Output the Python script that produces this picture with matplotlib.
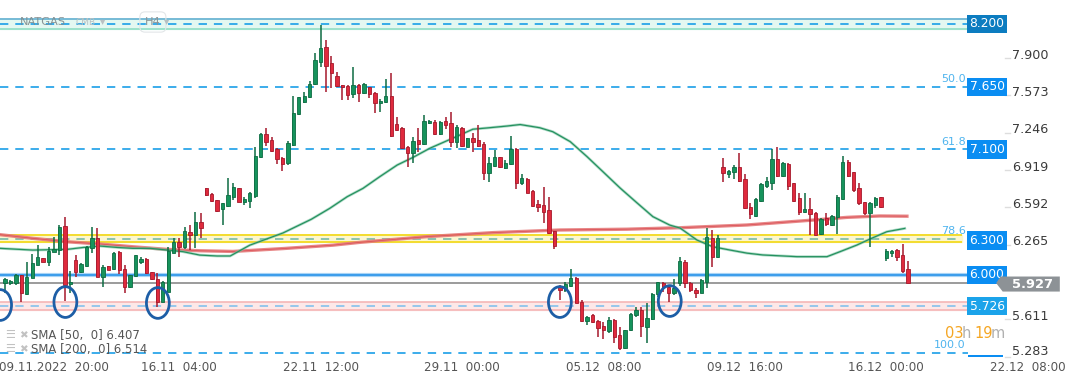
import matplotlib.pyplot as plt
from matplotlib.patches import Ellipse, Polygon, Rectangle
from matplotlib import transforms

plt.rcParams['lines.scale_dashes'] = False

# NATGAS H4 candles, first visible bar = index 0
opens = [5.925, 5.931, 5.931, 5.998, 5.83, 5.97, 6.09, 6.144, 6.115, 6.203,
         6.217, 6.428, 5.916, 6.13, 6.027, 6.077, 6.232, 6.32, 5.977, 6.074,
         6.048, 6.203, 6.05, 5.89, 5.99, 6.115, 6.138, 6.021, 5.96, 5.764,
         5.852, 6.194, 6.29, 6.246, 6.378, 6.349, 6.466, 6.758, 6.708, 6.656,
         6.574, 6.606, 6.685, 6.758, 6.641, 6.65, 6.694, 7.03, 7.232, 7.182,
         7.10, 7.027, 6.978, 7.139, 7.407, 7.519, 7.557, 7.671, 7.87, 8.0,
         7.855, 7.744, 7.662, 7.656, 7.583, 7.662, 7.592, 7.644, 7.598, 7.504,
         7.519, 7.568, 7.323, 7.29, 7.118, 7.065, 7.182, 7.144, 7.33, 7.343,
         7.235, 7.349, 7.329, 7.168, 7.285, 7.124, 7.203, 7.182, 7.147, 6.89,
         6.954, 7.03, 6.94, 6.969, 7.103, 6.802, 6.837, 6.738, 6.621, 6.612,
         6.568, 6.384, 5.901, 5.866, 5.901, 5.968, 5.764, 5.598, 5.647, 5.598,
         5.551, 5.51, 5.604, 5.47, 5.355, 5.515, 5.647, 5.69, 5.545, 5.609,
         5.829, 5.925, 5.89, 5.837, 5.93, 6.115, 5.93, 5.867, 5.843, 5.94,
         6.32, 6.159, 6.948, 6.881, 6.904, 6.942, 6.837, 6.598, 6.516, 6.65,
         6.779, 6.808, 7.016, 6.867, 6.972, 6.802, 6.671, 6.554, 6.574, 6.545,
         6.358, 6.495, 6.437, 6.504, 6.662, 6.986, 6.905, 6.758, 6.641, 6.545,
         6.612, 6.68, 6.144, 6.194, 6.217, 6.174, 6.048]
highs = [5.97, 5.954, 6.007, 6.0, 6.115, 6.18, 6.26, 6.15, 6.246, 6.334,
         6.435, 6.51, 6.033, 6.173, 6.10, 6.252, 6.42, 6.407, 6.086, 6.08,
         6.203, 6.21, 6.086, 6.0, 6.175, 6.153, 6.15, 6.027, 6.013, 5.945,
         6.24, 6.32, 6.32, 6.42, 6.44, 6.553, 6.539, 6.765, 6.72, 6.66,
         6.633, 6.846, 6.802, 6.76, 6.68, 6.73, 7.124, 7.247, 7.29, 7.21,
         7.109, 7.036, 7.177, 7.568, 7.56, 7.606, 7.70, 7.942, 8.191, 8.06,
         7.92, 7.776, 7.665, 7.662, 7.82, 7.67, 7.68, 7.65, 7.606, 7.539,
         7.715, 7.773, 7.387, 7.294, 7.13, 7.212, 7.285, 7.402, 7.36, 7.358,
         7.35, 7.387, 7.431, 7.314, 7.30, 7.20, 7.247, 7.314, 7.168, 7.03,
         7.095, 7.035, 7.007, 7.217, 7.115, 6.884, 6.846, 6.744, 6.656, 6.773,
         6.68, 6.387, 5.91, 5.94, 6.048, 5.983, 5.779, 5.639, 5.656, 5.604,
         5.589, 5.633, 5.609, 5.545, 5.52, 5.662, 5.72, 5.72, 5.756, 5.843,
         5.94, 5.94, 5.91, 5.96, 6.16, 6.13, 5.935, 5.88, 5.965, 6.408,
         6.393, 6.349, 7.022, 6.919, 6.963, 7.071, 6.884, 6.627, 6.671, 6.808,
         6.855, 7.1, 7.118, 6.992, 6.978, 6.808, 6.715, 6.715, 6.671, 6.55,
         6.495, 6.54, 6.525, 6.70, 7.042, 7.007, 6.905, 6.808, 6.641, 6.641,
         6.685, 6.685, 6.223, 6.217, 6.223, 6.27, 6.124]
lows = [5.837, 5.91, 5.91, 5.764, 5.82, 5.97, 6.09, 6.11, 6.077, 6.20,
        6.17, 5.773, 5.837, 5.983, 6.02, 6.07, 6.19, 5.977, 5.89, 6.04,
        6.04, 6.007, 5.843, 5.88, 5.98, 6.094, 6.01, 5.954, 5.72, 5.76,
        5.85, 6.19, 6.16, 6.23, 6.217, 6.232, 6.32, 6.69, 6.64, 6.55,
        6.44, 6.597, 6.656, 6.64, 6.612, 6.583, 6.671, 7.022, 7.13, 7.08,
        6.972, 6.913, 6.963, 7.13, 7.40, 7.51, 7.548, 7.665, 7.826, 7.606,
        7.636, 7.65, 7.533, 7.533, 7.548, 7.519, 7.59, 7.554, 7.422, 7.431,
        7.504, 7.212, 7.264, 7.10, 6.943, 6.978, 7.08, 7.138, 7.32, 7.226,
        7.23, 7.276, 7.118, 7.109, 7.124, 7.12, 7.08, 7.124, 6.831, 6.817,
        6.943, 6.94, 6.925, 6.963, 6.753, 6.788, 6.715, 6.597, 6.554, 6.451,
        6.358, 6.223, 5.779, 5.852, 5.896, 5.75, 5.589, 5.56, 5.574, 5.457,
        5.434, 5.492, 5.405, 5.34, 5.35, 5.51, 5.633, 5.457, 5.399, 5.603,
        5.808, 5.852, 5.764, 5.823, 5.90, 5.88, 5.85, 5.80, 5.84, 5.88,
        6.07, 6.144, 6.817, 6.852, 6.837, 6.817, 6.574, 6.49, 6.51, 6.641,
        6.758, 6.744, 6.861, 6.855, 6.744, 6.641, 6.525, 6.54, 6.349, 6.345,
        6.349, 6.428, 6.428, 6.358, 6.656, 6.855, 6.73, 6.612, 6.525, 6.24,
        6.583, 6.583, 6.124, 6.153, 6.124, 6.019, 5.927]
closes = [5.960, 5.945, 5.998, 5.837, 5.978, 6.10, 6.153, 6.115, 6.211, 6.226,
          6.42, 5.91, 5.937, 6.027, 6.094, 6.246, 6.32, 5.977, 6.071, 6.042,
          6.194, 6.042, 5.89, 5.998, 6.173, 6.138, 6.013, 5.96, 5.764, 5.94,
          6.208, 6.29, 6.24, 6.384, 6.349, 6.466, 6.407, 6.70, 6.647, 6.563,
          6.627, 6.70, 6.767, 6.641, 6.665, 6.715, 7.042, 7.232, 7.168, 7.089,
          7.013, 6.972, 7.153, 7.416, 7.557, 7.568, 7.671, 7.884, 7.986, 7.834,
          7.767, 7.659, 7.647, 7.58, 7.662, 7.592, 7.671, 7.583, 7.504, 7.524,
          7.568, 7.218, 7.27, 7.109, 7.065, 7.177, 7.144, 7.349, 7.349, 7.235,
          7.343, 7.314, 7.168, 7.294, 7.133, 7.197, 7.168, 7.133, 6.896, 6.983,
          7.03, 6.943, 6.983, 7.103, 6.808, 6.846, 6.72, 6.606, 6.598, 6.554,
          6.364, 6.253, 5.866, 5.919, 5.968, 5.756, 5.598, 5.627, 5.589, 5.53,
          5.515, 5.604, 5.457, 5.355, 5.515, 5.656, 5.69, 5.551, 5.618, 5.829,
          5.934, 5.896, 5.837, 5.881, 6.12, 5.93, 5.867, 5.843, 5.955, 6.329,
          6.159, 6.32, 6.89, 6.908, 6.948, 6.826, 6.583, 6.533, 6.662, 6.796,
          6.823, 7.016, 6.867, 6.978, 6.782, 6.65, 6.554, 6.577, 6.533, 6.349,
          6.486, 6.443, 6.516, 6.68, 6.986, 6.867, 6.744, 6.627, 6.539, 6.627,
          6.67, 6.598, 6.208, 6.211, 6.159, 6.036, 5.927]

# moving averages (bar index, price)
sma50_x = [-0.9, 5.1, 11.4, 14.4, 17.5, 20.6, 23.5, 26.7, 29.8, 32.7, 35.8, 39.0,
           41.4, 45.0, 51.1, 56.3, 59.7, 62.9, 65.8, 68.9, 72.1, 75.0, 78.1, 82.4,
           86.0, 88.6, 92.3, 94.7, 98.3, 100.7, 103.9, 107.0, 109.9, 113.1, 116.2,
           119.1, 122.2, 124.1, 127.2, 130.1, 133.3, 136.4, 139.3, 145.6, 151.1,
           153.5, 156.6, 159.0, 162.1, 165.4]
sma50_y = [6.232, 6.217, 6.223, 6.24, 6.252, 6.24, 6.232, 6.232, 6.217, 6.203,
           6.173, 6.165, 6.165, 6.26, 6.367, 6.487, 6.583, 6.685, 6.758, 6.861,
           6.963, 7.03, 7.11, 7.20, 7.277, 7.288, 7.305, 7.318, 7.29, 7.255,
           7.168, 7.036, 6.905, 6.76, 6.63, 6.51, 6.436, 6.41, 6.305, 6.246,
           6.217, 6.19, 6.174, 6.159, 6.159, 6.203, 6.261, 6.314, 6.378, 6.407]
sma200_x = [-0.9, 5.1, 11.4, 17.5, 23.5, 29.8, 35.8, 41.9, 51.1, 60.3, 65.3,
            77.6, 89.7, 102.0, 114.3, 124.1, 136.4, 148.5, 154.8, 160.8, 165.8]
sma200_y = [6.352, 6.32, 6.29, 6.27, 6.246, 6.223, 6.211, 6.205, 6.23, 6.26,
            6.285, 6.335, 6.37, 6.393, 6.40, 6.413, 6.437, 6.48, 6.504, 6.516, 6.514]

date_pos = [9, 32, 58, 84, 110, 136, 162, 188]
date_labels = ['09.11.2022  20:00', '16.11  04:00', '22.11  12:00', '29.11  00:00',
               '05.12  08:00', '09.12  16:00', '16.12  00:00', '22.12  08:00']
price_ticks = [7.900, 7.573, 7.246, 6.919, 6.592, 6.265, 5.611, 5.283]

fib_prices = [7.65, 7.10, 6.317, 5.314]
fib_names = ['50.0', '61.8', '78.6', '100.0']
level_boxes = [8.200, 7.650, 7.100, 6.300, 6.000, 5.726]
box_colors = ['#0c7cc0', '#0a8df2', '#0a8df2', '#0a8df2', '#0a8df2', '#1ba3ea']
last_price = 5.927
# bars whose lows are ringed on the chart (bar index, price)
rings = [(-0.9, 5.735), (11.1, 5.761), (28.1, 5.753), (102.0, 5.761), (122.2, 5.77)]

W, H = 1072, 382
fig = plt.figure(figsize=(W / 100, H / 100), dpi=100)
ax = fig.add_axes([0, 25 / H, 1, 357 / H])
ax.set_xlim(-0.919, 196.14)
ax.set_ylim(5.279, 8.4105)
for s in ax.spines.values():
    s.set_visible(False)
ax.set_yticks([])
ax.set_xticks(date_pos, date_labels)
ax.tick_params(axis='x', length=0, pad=3, labelsize=8.6, labelcolor='#555555')

xr = 177.0  # right end of the drawn levels
blue = '#1a9ee8'

# resistance / support zones
ax.fill_between([-1, xr], 8.158, 8.242, color='#e4f8f1', zorder=1)
ax.hlines([8.158], -1, xr, color='#96e0c8', lw=1.3, zorder=2)
ax.hlines([8.242], -1, xr, color='#6db6d4', lw=1.3, zorder=2)
ax.hlines([8.2], -1, xr, color=blue, lw=1.2, linestyle=(0, (6, 5)), zorder=2)

ax.fill_between([-1, 176.0], 6.29, 6.345, color='#fcf7cf', zorder=1)
ax.hlines([6.29, 6.345], -1, 176.0, color='#f3dc2e', lw=1.4, zorder=2)
ax.hlines([6.317], -1, 176.0, color='#6cb5a6', lw=1.1, linestyle=(0, (6, 5)), zorder=2)

ax.fill_between([-1, xr], 5.694, 5.76, color='#fde8e8', zorder=1)
ax.hlines([5.694, 5.76], -1, xr, color='#f4b2b2', lw=1.1, zorder=2)
ax.hlines([5.726], -1, xr, color='#8ec4ec', lw=1.3, linestyle=(0, (6, 5)), zorder=2)

for p in fib_prices[:2] + fib_prices[3:]:
    ax.hlines([p], -1, xr, color=blue, lw=1.2, linestyle=(0, (6, 5)), zorder=2)
for p, name in zip(fib_prices, fib_names):
    ax.text(176.6, p + 0.025, name, ha='right', va='bottom', fontsize=8,
            color='#4fb4ee', zorder=6)

ax.hlines([6.0], -1, xr, color='#a8d4f6', lw=3, zorder=2)
ax.hlines([6.0], -1, xr, color='#1e8ee8', lw=1.1, zorder=2)
ax.hlines([last_price], -1, 183.5, color='#8a8a8a', lw=1.2, zorder=2)

# moving averages
ax.plot(sma200_x, sma200_y, color='#e57a7a', lw=2.4, alpha=0.9, zorder=3)
ax.plot(sma200_x, sma200_y, color='#d9474f', lw=0.6, alpha=0.8, zorder=3)
ax.plot(sma50_x, sma50_y, color='#7cc4a4', lw=2.0, alpha=0.6, zorder=3)
ax.plot(sma50_x, sma50_y, color='#25915f', lw=0.9, zorder=3)

# candles
for i, (o, h, l, c) in enumerate(zip(opens, highs, lows, closes)):
    up = c >= o
    col = '#16935c' if up else '#df2a3d'
    edge = '#0d6b42' if up else '#a6182b'
    ax.vlines(i, l, h, color=edge, lw=1.1, zorder=4)
    ax.bar(i, max(abs(c - o), 0.006), bottom=min(o, c), width=0.62,
           color=col, edgecolor=edge, linewidth=0.6, zorder=5)

for cx, cy in rings:
    ax.add_patch(Ellipse((cx, cy), 4.2, 0.27, fill=False, ec='#1d5ea6', lw=2, zorder=6))

# level price boxes on the right
for p, col in zip(level_boxes, box_colors):
    ax.text(177.3, p, f'{p:.3f}', ha='left', va='center', fontsize=8.8, color='white',
            zorder=8, bbox=dict(boxstyle='square,pad=0.22', fc=col, ec='none'))
# the 100.0 level box is cut off by the bottom of the chart
ax.add_patch(Rectangle((177.0, 5.15), 6.45, 0.146, fc='#0a8df2', ec='none', zorder=8))

# price scale
up3 = transforms.offset_copy(ax.transData, fig=fig, x=0, y=3, units='dots')
for p in price_ticks:
    ax.plot([183.8, 184.7], [p, p], color='#dddddd', lw=1, zorder=2, clip_on=False)
    dy = 0.02 if p < 5.3 else 0
    ax.text(185.1, p + dy, f'{p:.3f}', ha='left', va='center', fontsize=9.2,
            color='#3a3a3a', transform=up3, clip_on=False)

# last price tag
tag_top, tag_bot = last_price + 0.058, last_price - 0.074
ax.add_patch(Polygon([(183.0, tag_top), (182.2, last_price), (183.4, tag_bot),
                      (193.9, tag_bot), (193.9, tag_top)], closed=True,
                     fc='#8d9296', ec='none', zorder=8, clip_on=False))
ax.text(185.2, last_price - 0.008, f'{last_price:.3f}', ha='left', va='center',
        fontsize=9.4, fontweight='bold', color='white', zorder=9)


def ftext(x, y, s, **kw):
    fig.text(x / W, 1 - y / H, s, **kw)


# header
ftext(20, 22, 'NATGAS', fontsize=8.2, color='#7f8a8c', va='center', alpha=0.9)
ftext(75, 22.5, 'CMB', fontsize=6.5, color='#b8c0c2', va='center')
ftext(100, 21, '▾', fontsize=7.5, color='#b8c0c2', va='center')
ftext(145, 22, 'H4', fontsize=8.2, color='#8a9496', va='center',
      bbox=dict(boxstyle='round,pad=0.45', fc='none', ec='#e2e6e8', lw=0.8))
ftext(164, 21, '▾', fontsize=7.5, color='#b8c0c2', va='center')

# indicator legend
for y, s in [(335, 'SMA [50,  0] 6.407'), (349, 'SMA [200,  0] 6.514')]:
    ftext(5, y, '☰', fontsize=8, color='#c2c2c2', va='center')
    ftext(19, y, '✖', fontsize=7.5, color='#c2c2c2', va='center')
    ftext(31, y, s, fontsize=8.4, color='#555555', va='center')

# candle countdown
ftext(945, 333, '03', fontsize=10.5, color='#f5a623', va='center')
ftext(961.5, 333, 'h', fontsize=10.5, color='#b0b0b0', va='center')
ftext(974, 333, '19', fontsize=10.5, color='#f5a623', va='center')
ftext(991, 333, 'm', fontsize=10.5, color='#b0b0b0', va='center')

fig.savefig('out.png', dpi=100)
